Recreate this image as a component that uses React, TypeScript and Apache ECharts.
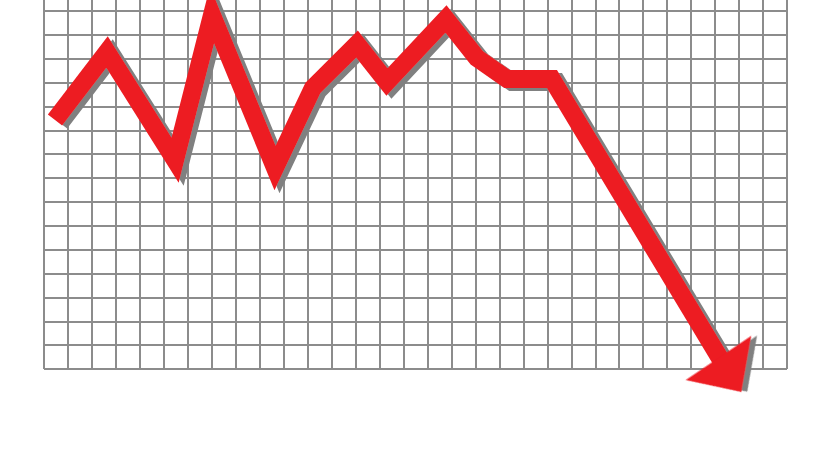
import React, { useEffect, useRef } from "react";
import * as echarts from "echarts";

// Grid cell units: x across 31 columns, y up 16 rows (top row is cut by the page edge)
const xCells = 31;
const yCells = 16;

// Path of the falling arrow, in grid cell units
const xValues = [0.46, 2.63, 5.47, 7.01, 9.64, 11.22, 13.06, 14.31, 16.77, 18.06, 19.32, 21.19, 28.62];
const yValues = [10.43, 13.28, 8.75, 14.83, 8.42, 11.77, 13.61, 12.02, 14.66, 13.03, 12.15, 12.15, -0.25];

export default function App() {
  const ref = useRef<HTMLDivElement>(null);
  useEffect(() => {
    if (!ref.current) return;
    const chart = echarts.init(ref.current, undefined, { renderer: "svg" });
    const last = xValues.length - 1;
    const data = xValues.map((x, i) =>
      i === last
        ? {
            value: [x, yValues[i]],
            symbol: "triangle",
            symbolSize: [79, 41],
            symbolRotate: 214,
          }
        : { value: [x, yValues[i]], symbol: "none" }
    );
    chart.setOption({
      animation: false,
      backgroundColor: "#ffffff",
      grid: { left: 44, right: 38, top: 0, bottom: 81, containLabel: false },
      xAxis: {
        type: "value",
        min: 0,
        max: xCells,
        interval: 1,
        axisLine: { show: false },
        axisTick: { show: false },
        axisLabel: { show: false },
        splitLine: { show: true, lineStyle: { color: "#8c8c8c", width: 2 } },
      },
      yAxis: {
        type: "value",
        min: 0,
        max: yCells,
        interval: 1,
        axisLine: { show: false },
        axisTick: { show: false },
        axisLabel: { show: false },
        splitLine: { show: true, lineStyle: { color: "#8c8c8c", width: 2 } },
      },
      series: [
        {
          type: "line",
          data,
          clip: false,
          showSymbol: true,
          showAllSymbol: true,
          lineStyle: {
            color: "#ed1c24",
            width: 18,
            join: "miter",
            miterLimit: 10,
            cap: "butt",
            shadowColor: "#808080",
            shadowBlur: 0,
            shadowOffsetX: 5,
            shadowOffsetY: 3,
          },
          itemStyle: {
            color: "#ed1c24",
            opacity: 1,
            shadowColor: "#808080",
            shadowBlur: 0,
            shadowOffsetX: 5,
            shadowOffsetY: 3,
          },
          emphasis: { disabled: true },
        },
      ],
    });
    return () => chart.dispose();
  }, []);
  return (
    <div style={{ position: "fixed", left: 0, top: 0, width: 825, height: 450, overflow: "hidden", background: "#fff" }}>
      <div
        ref={ref}
        style={{ position: "absolute", left: 0, top: -13, width: 825, height: 463 }}
      />
    </div>
  );
}
